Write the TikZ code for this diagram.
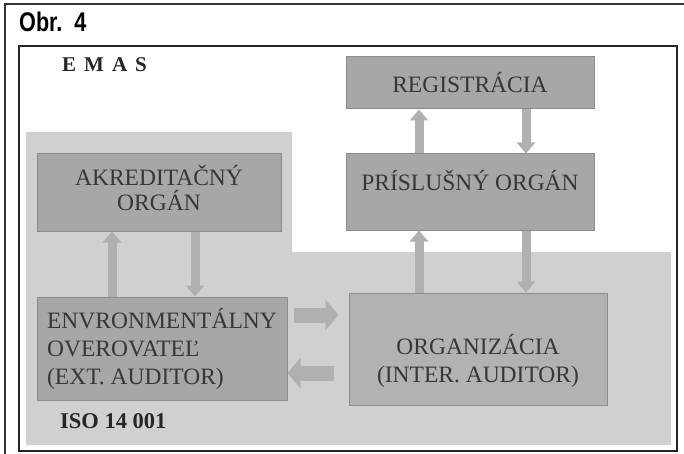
\documentclass[tikz,border=0pt]{standalone}
\usepackage{fontspec}
\usepackage{graphicx}
\setmainfont{Liberation Serif}
\newfontfamily\obrfont{Liberation Sans}
\usetikzlibrary{arrows.meta}
\definecolor{isogray}{RGB}{208,208,210}
\definecolor{boxgray}{RGB}{167,167,170}
\definecolor{orggray}{RGB}{178,178,181}
\definecolor{edgegray}{RGB}{140,140,143}
\definecolor{arrowgray}{RGB}{176,176,179}
\definecolor{textgray}{RGB}{55,55,57}
\tikzset{
  box/.style={draw=edgegray, fill=boxgray, line width=1pt, inner sep=0pt,
    text=textgray, align=center, font=\fontsize{23.5}{28}\selectfont},
  boxtext/.style={text=textgray, align=center, font=\fontsize{23.5}{28}\selectfont},
  vflow/.style={arrowgray, line width=9pt,
    -{Triangle[width=18pt,length=11pt]}},
  hflow/.style={arrowgray, line width=15pt,
    -{Triangle[width=30pt,length=13pt]}}
}
\begin{document}
\begin{tikzpicture}[x=1pt,y=-1pt]
        \useasboundingbox (0,0) rectangle (684,454);
        \fill[white] (0,0) rectangle (684,454);
        % outer frame and inner frame
        \draw[line width=1.5pt, black!80] (5,4) rectangle (700,470);
        \node[anchor=base west, inner sep=0pt] (obr) at (19,32)
            {\obrfont\bfseries\fontsize{27}{30}\selectfont\scalebox{0.8}[1]{Obr.\ \ 4}};
        \draw[line width=2pt, black!85] (19,46) rectangle (677,451);
        % ISO 14 001 area
        \fill[isogray] (26,132) -- (292,132) -- (292,252) -- (671,252)
            -- (671,445) -- (26,445) -- cycle;
        \node[anchor=base west, inner sep=0pt, text=black!85,
            font=\fontsize{21}{24}\selectfont\bfseries] (emas) at (62,72)
            {\spaceskip=8pt E M A S};
        \node[anchor=base west, inner sep=0pt, text=black!85,
            font=\fontsize{22.5}{24}\selectfont\bfseries] (iso) at (60,428)
            {ISO 14 001};
        % boxes
        \node[box, minimum width=244pt, minimum height=77pt,
            label={[boxtext, yshift=4pt]center:AKREDITAČNÝ\\[-3pt]ORGÁN}] (akred) at (159,192.5) {};
        \node[box, minimum width=250pt, minimum height=103pt, align=left] (env) at (162,348.5)
            {ENVRONMENTÁLNY\\OVEROVATEĽ\\(EXT. AUDITOR)};
        \node[box, minimum width=248pt, minimum height=52pt] (reg) at (470,83)
            {REGISTRÁCIA};
        \node[box, minimum width=248pt, minimum height=76pt,
            label={[boxtext, yshift=11pt]center:PRÍSLUŠNÝ ORGÁN}] (prisl) at (470,192) {};
        \node[box, fill=orggray, minimum width=258pt, minimum height=112pt,
            label={[boxtext, yshift=-12pt]center:ORGANIZÁCIA\\(INTER. AUDITOR)}] (org) at (478,349) {};
        % flows
        \coordinate (akup) at ([xshift=-47pt]akred.south);
        \coordinate (akdn) at ([xshift=36pt]akred.south);
        \draw[vflow] (env.north -| akup) -- (akup);
        \draw[vflow] (akdn) -- (env.north -| akdn);
        \coordinate (rgup) at ([xshift=-51pt]reg.south);
        \coordinate (rgdn) at ([xshift=56pt]reg.south);
        \draw[vflow] (prisl.north -| rgup) -- (rgup);
        \draw[vflow] (rgdn) -- (prisl.north -| rgdn);
        \coordinate (prup) at ([xshift=-51pt]prisl.south);
        \coordinate (prdn) at ([xshift=56pt]prisl.south);
        \draw[vflow] (org.north -| prup) -- (prup);
        \draw[vflow] (prdn) -- (org.north -| prdn);
        \coordinate (ort) at ([yshift=34pt,xshift=-10pt]org.west);
        \coordinate (olt) at ([yshift=-24pt,xshift=-15pt]org.west);
        \draw[hflow] ([xshift=6pt]env.east |- ort) -- (ort);
        \draw[hflow] (olt) -- (env.east |- olt);
    \end{tikzpicture}
\end{document}
